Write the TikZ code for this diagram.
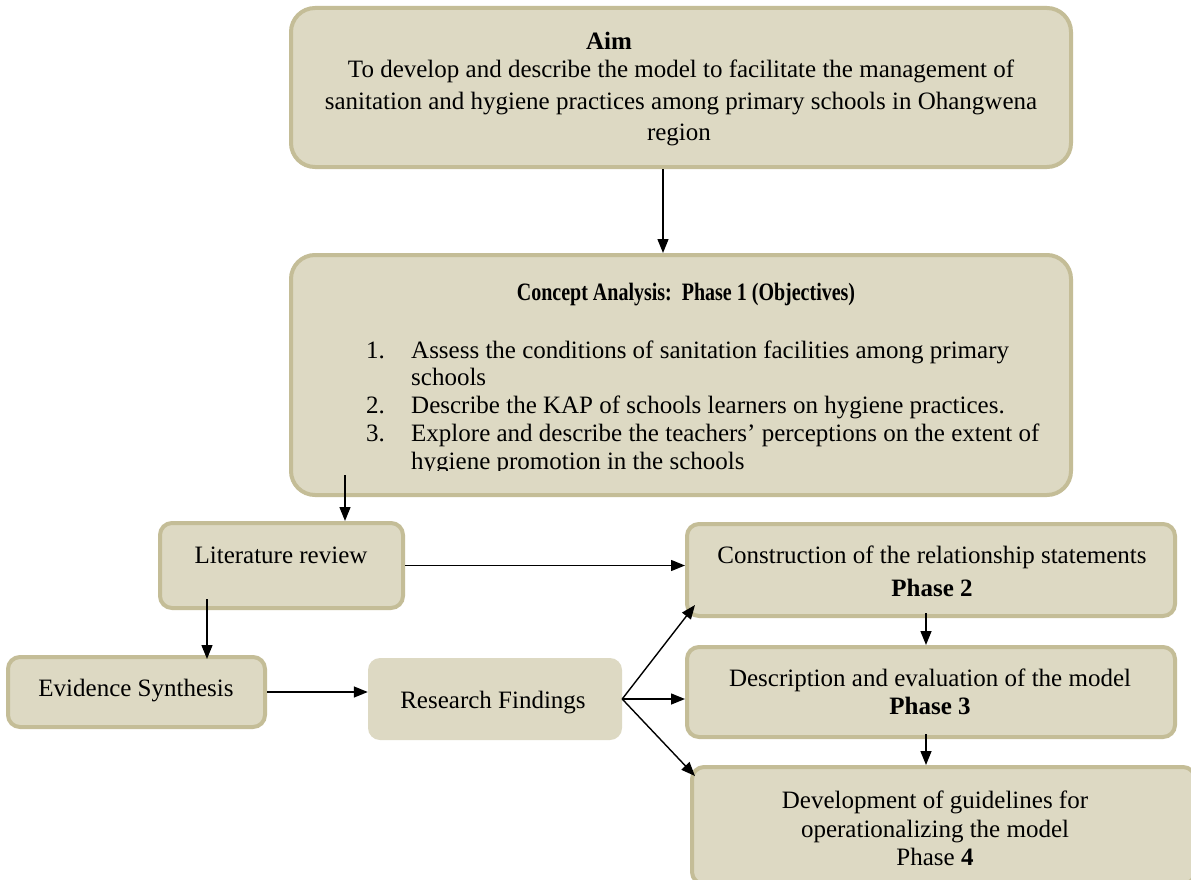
\documentclass[tikz,border=0pt]{standalone}
\usepackage{fontspec}
\setmainfont{Liberation Serif}
\usetikzlibrary{arrows.meta}
\definecolor{boxfill}{HTML}{DDD9C3}
\definecolor{boxline}{HTML}{C4BD97}
\begin{document}
\begin{tikzpicture}[x=1pt,y=-1pt,
  box/.style={draw=boxline, line width=4pt, fill=boxfill, rounded corners=24pt, inner sep=0pt},
  sbox/.style={draw=boxline, line width=4pt, fill=boxfill, rounded corners=12pt, inner sep=0pt},
  plainbox/.style={fill=boxfill, rounded corners=12pt, inner sep=0pt},
  txt/.style={font=\fontsize{25}{30}\selectfont, inner sep=0pt, anchor=base},
  ltxt/.style={txt, anchor=base west},
  arr/.style={-{Triangle[length=14pt,width=11pt]}, line width=1.4pt}]
\useasboundingbox (0,0) rectangle (1191,880);
\fill[white] (0,0) rectangle (1191,880);
% boxes
\node[box, minimum width=780pt, minimum height=159pt] (aim) at (681,87.5) {};
\node[box, minimum width=780pt, minimum height=240pt] (concept) at (681,375) {};
\node[sbox, minimum width=243pt, minimum height=85pt] (lit) at (281.5,565.5) {};
\node[sbox, minimum width=257pt, minimum height=70pt] (evid) at (136.5,692) {};
\node[plainbox, minimum width=254pt, minimum height=82pt] (res) at (495,699) {};
\node[sbox, minimum width=488pt, minimum height=92pt] (cons) at (931,570) {};
\node[sbox, minimum width=488pt, minimum height=90pt] (desc) at (931,692) {};
\node[sbox, minimum width=503pt, minimum height=117pt] (dev) at (943.5,825.5) {};
% texts
\node[txt] (aimt) at (609,50) {\bfseries Aim};
\node[txt] (aim1) at (681,78) {To develop and describe the model to facilitate the management of};
\node[txt] (aim2) at (681,110) {sanitation and hygiene practices among primary schools in Ohangwena};
\node[txt] (aim3) at (679,141) {region};
\node[txt] (cont) at (686,300) {\scalebox{0.8}[1]{\bfseries Concept Analysis:\ \ Phase 1 (Objectives)}};
\node[ltxt] (n1) at (366,358) {1.};
\node[ltxt] (c1) at (411,358) {Assess the conditions of sanitation facilities among primary};
\node[ltxt] (c1b) at (411,385) {schools};
\node[ltxt] (n2) at (366,413) {2.};
\node[ltxt] (c2) at (411,413) {Describe the KAP of schools learners on hygiene practices.};
\node[ltxt] (n3) at (366,441) {3.};
\node[ltxt] (c3) at (411,441) {Explore and describe the teachers' perceptions on the extent of};
\begin{scope}
\clip (300,440) rectangle (1060,470);
\node[ltxt] (c3b) at (411,469) {hygiene promotion in the schools};
\end{scope}
\node[txt] (litt) at (281,563) {Literature review};
\node[txt] (evidt) at (136,696) {Evidence Synthesis};
\node[txt] (rest) at (493,708) {Research Findings};
\node[txt] (cons1) at (932,563) {Construction of the relationship statements};
\node[txt] (cons2) at (932,596) {\bfseries Phase 2};
\node[txt] (desc1) at (930,686) {Description and evaluation of the model};
\node[txt] (desc2) at (930,714) {\bfseries Phase 3};
\node[txt] (dev1) at (935,808) {Development of guidelines for};
\node[txt] (dev2) at (935,837) {operationalizing the model};
\node[txt] (dev3) at (935,865) {Phase \textbf{4}};
% connectors
\coordinate (fan) at (res.east);
\draw[arr] ([xshift=-18pt]aim.south) -- ([xshift=-18pt]concept.north);
\draw[arr] ([xshift=-336pt,yshift=22pt]concept.south) -- ([xshift=63.5pt]lit.north);
\draw[arr] ([xshift=-74.5pt,yshift=11pt]lit.south) -- ([xshift=70.5pt,yshift=-4pt]evid.north);
\draw[arr] (lit.east) -- (lit.east -| cons.west);
\draw[arr] (evid.east) -- (evid.east -| res.west);
\draw[arr] (fan) -- ([xshift=10pt,yshift=13pt]cons.south west);
\draw[arr] (fan) -- (fan -| desc.west);
\draw[arr] (fan) -- ([xshift=5pt,yshift=-11pt]dev.north west);
\draw[arr] ([xshift=-5pt,yshift=5pt]cons.south) -- ([xshift=-5pt]desc.north);
\draw[arr] ([xshift=-5pt,yshift=5pt]desc.south) -- ([xshift=-17.5pt]dev.north);
\end{tikzpicture}
\end{document}
